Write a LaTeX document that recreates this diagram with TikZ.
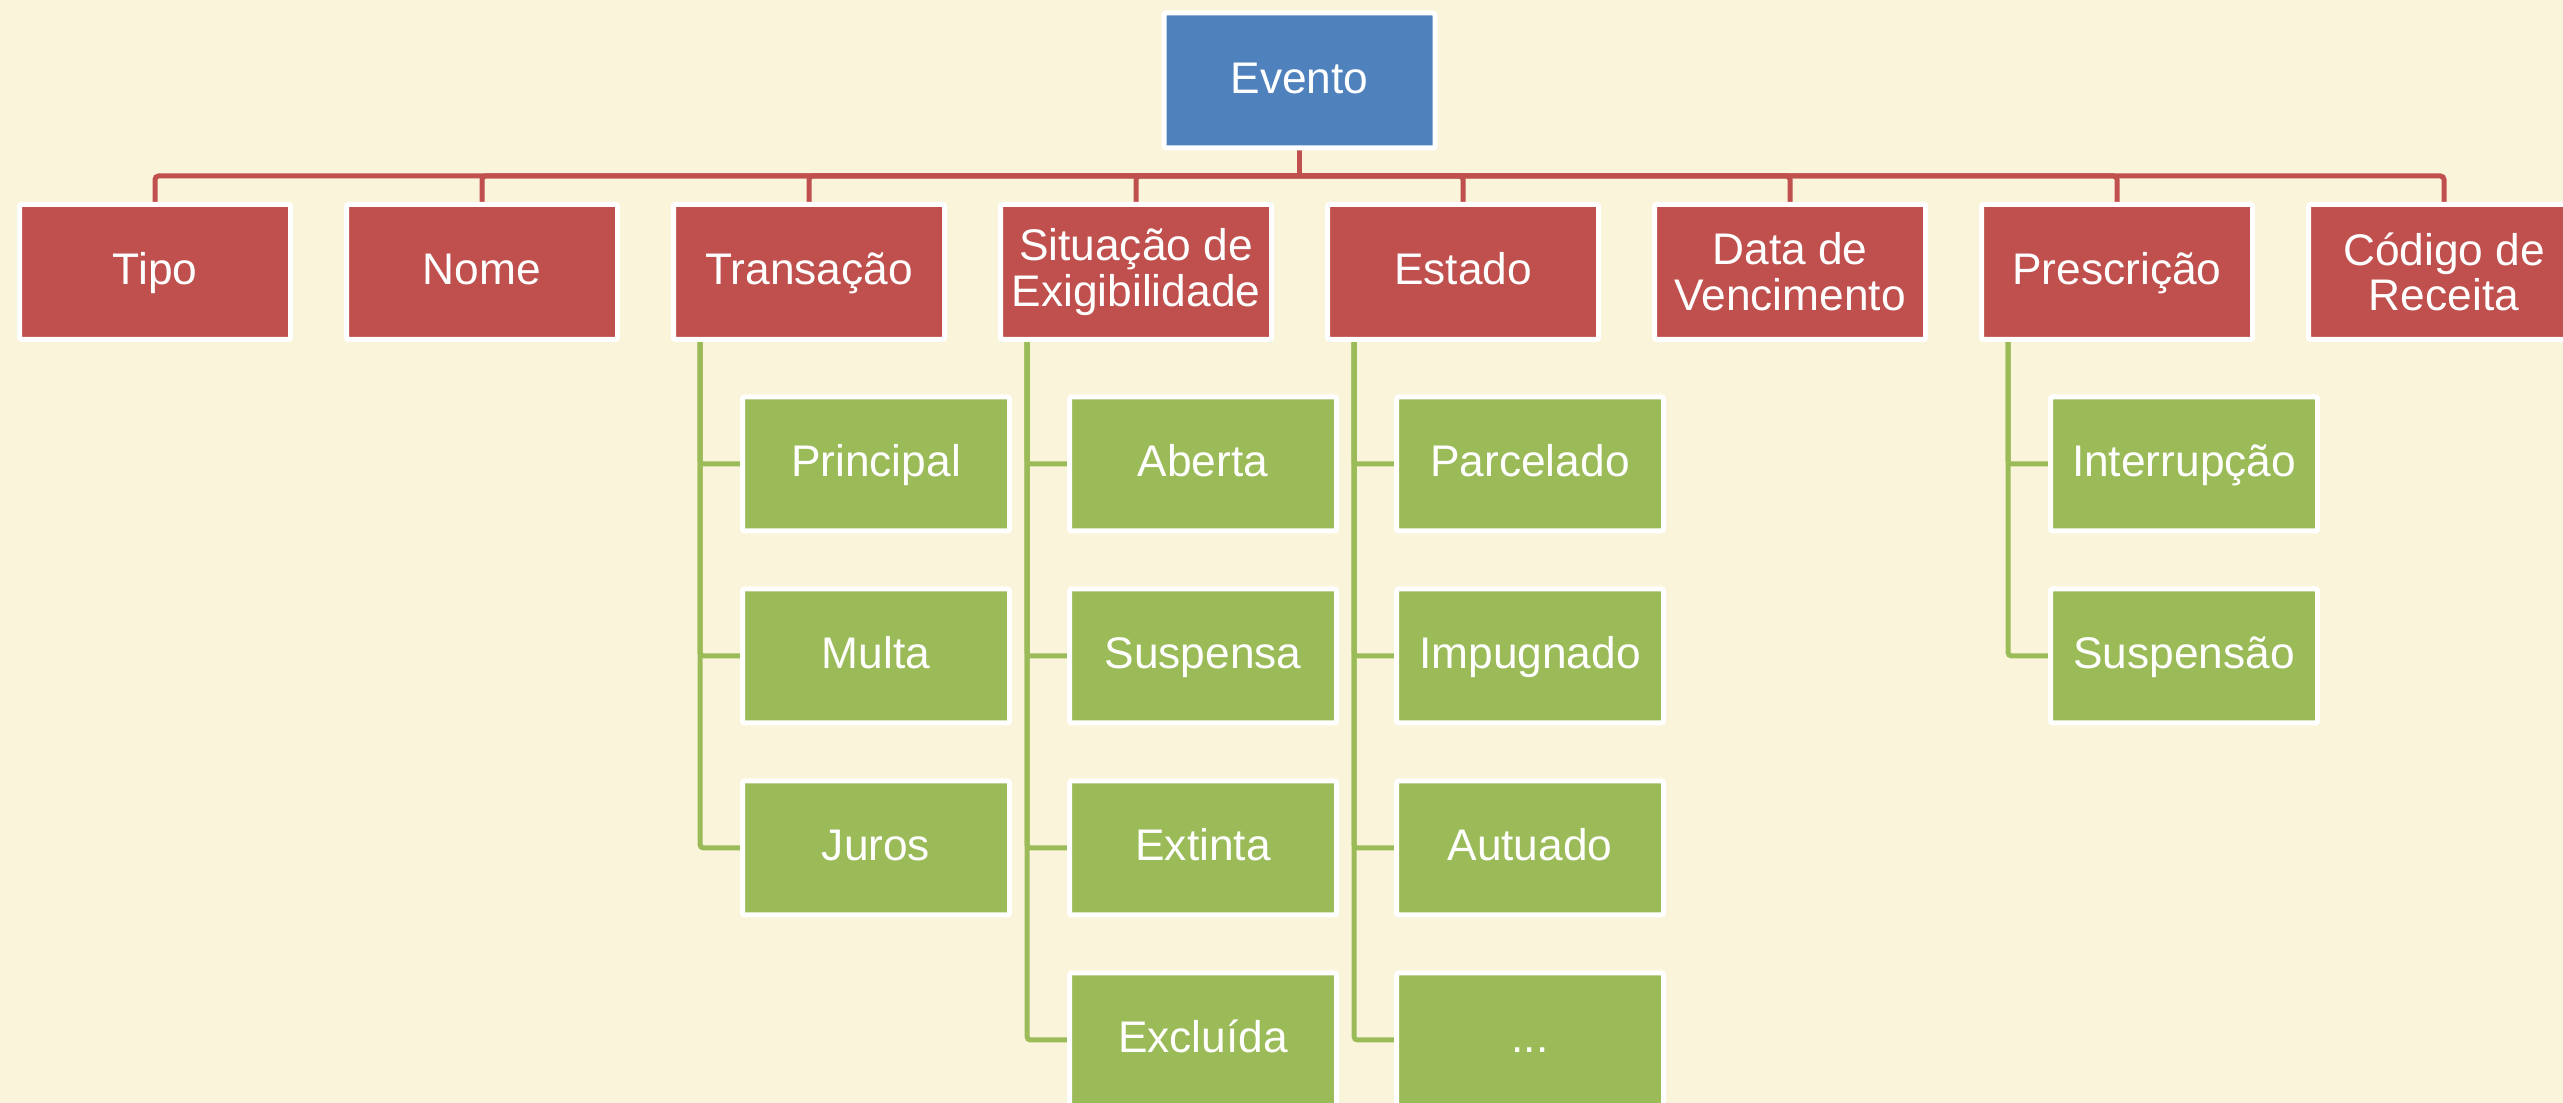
\documentclass[tikz,border=0pt]{standalone}
\usepackage{fontspec}
\setmainfont{Liberation Sans}
\usetikzlibrary{positioning,backgrounds}
\definecolor{paper}{HTML}{FAF5DA}
\definecolor{evblue}{HTML}{4F81BD}
\definecolor{evred}{HTML}{C0504D}
\definecolor{evgreen}{HTML}{9BBB59}
\newcommand{\etcdots}{...}
\tikzset{
  box/.style={rectangle,draw=white,line width=0.05cm,rounded corners=0.6pt,minimum width=2.71cm,minimum height=1.35cm,inner sep=1pt,align=center,text=white,text height=0.73em,text depth=0em,font=\fontsize{12.6}{13}\selectfont},
  twoline/.style={text height={},text depth={}},
  rootbox/.style={box,fill=evblue},
  topicbox/.style={box,fill=evred},
  itembox/.style={box,fill=evgreen,minimum width=2.67cm,minimum height=1.34cm},
  redline/.style={draw=evred,line width=0.05cm,rounded corners=1pt},
  greenline/.style={draw=evgreen,line width=0.05cm,rounded corners=1pt}
}

\begin{document}
\begin{tikzpicture}
  \useasboundingbox (0,0) rectangle (25.63,11.03);
  \clip (0,0) rectangle (25.63,11.03);
  \begin{scope}[on background layer]
    \fill[paper] (0,0) rectangle (25.63,11.03);
  \end{scope}

  % root
  \node[rootbox] (evento) at (12.995,10.225) {Evento};

  % first level
  \foreach \i/\txt in {0/Tipo,1/Nome,2/Transação,4/Estado,6/Prescrição} {
    \node[topicbox] (t\i) at ({1.55+3.27*\i},8.31) {\txt};
  }
  \foreach \i/\txt in {3/{Situação de\\Exigibilidade},5/{Data de\\Vencimento},7/{Código de\\Receita}} {
    \node[topicbox,twoline] (t\i) at ({1.55+3.27*\i},8.31) {\txt};
  }

  % second level
  \foreach \p/\list in {2/{Principal,Multa,Juros},3/{Aberta,Suspensa,Extinta,Excluída},4/{Parcelado,Impugnado,Autuado,\etcdots},6/{Interrupção,Suspensão}} {
    \foreach \txt [count=\k] in \list {
      \node[itembox] (t\p-\k) at ({1.55+3.27*\p+0.67},{6.39-1.92*(\k-1)}) {\txt};
      \begin{scope}[on background layer]
        \draw[greenline] ([xshift=-1.09cm]t\p.south) |- (t\p-\k.west);
      \end{scope}
    }
  }

  % bus
  \coordinate (bus) at (12.995,9.27);
  \begin{scope}[on background layer]
    \draw[redline] (evento.south) -- (evento.south |- bus);
    \foreach \i in {0,...,7} {
      \draw[redline] (evento.south |- bus) -| (t\i.north);
    }
  \end{scope}
\end{tikzpicture}
\end{document}
